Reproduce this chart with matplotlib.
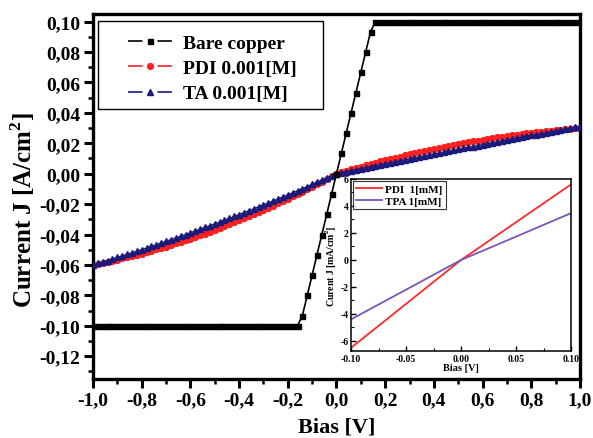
import numpy as np
import matplotlib
matplotlib.use("Agg")
import matplotlib.pyplot as plt
from matplotlib.ticker import FixedLocator, MultipleLocator, FuncFormatter
from matplotlib.lines import Line2D
from matplotlib.patches import Rectangle

plt.rcParams['font.family'] = ['Liberation Serif', 'DejaVu Serif']
plt.rcParams['font.weight'] = 'bold'
plt.rcParams['mathtext.fontset'] = 'custom'
plt.rcParams['mathtext.rm'] = 'Liberation Serif'
plt.rcParams['mathtext.bf'] = 'Liberation Serif:bold'
plt.rcParams['lines.scale_dashes'] = False

# ---------------- data ----------------
bias = np.round(np.arange(-1.0, 1.0001, 0.02), 2)

bare_copper = [-0.1] * 43 + [-0.0933, -0.08, -0.0667, -0.0533, -0.04, -0.0267, -0.0133,
               0.0,
               0.0133, 0.0267, 0.04, 0.0533, 0.0667, 0.08, 0.0933] + [0.1] * 43

pdi = [-0.06000, -0.05935, -0.05868, -0.05798, -0.05726, -0.05652, -0.05576, -0.05497,
       -0.05416, -0.05333, -0.05248, -0.05160, -0.05071, -0.04979, -0.04885, -0.04788,
       -0.04689, -0.04588, -0.04485, -0.04380, -0.04272, -0.04162, -0.04050, -0.03936,
       -0.03819, -0.03700, -0.03579, -0.03456, -0.03330, -0.03202, -0.03072, -0.02940,
       -0.02805, -0.02668, -0.02529, -0.02388, -0.02245, -0.02099, -0.01951, -0.01800,
       -0.01648, -0.01493, -0.01336, -0.01177, -0.01016, -0.00852, -0.00686, -0.00518,
       -0.00348, -0.00175, 0.0,
       0.00095, 0.00189, 0.00282, 0.00372, 0.00462, 0.00550, 0.00637, 0.00722, 0.00806,
       0.00888, 0.00969, 0.01048, 0.01126, 0.01203, 0.01278, 0.01352, 0.01424, 0.01495,
       0.01564, 0.01632, 0.01698, 0.01764, 0.01827, 0.01889, 0.01950, 0.02009, 0.02067,
       0.02124, 0.02179, 0.02232, 0.02284, 0.02335, 0.02384, 0.02432, 0.02478, 0.02523,
       0.02566, 0.02608, 0.02649, 0.02688, 0.02726, 0.02762, 0.02797, 0.02830, 0.02862,
       0.02892, 0.02922, 0.02949, 0.02975, 0.03000]

ta = [-0.06000, -0.05904, -0.05806, -0.05708, -0.05608, -0.05508, -0.05407, -0.05305,
      -0.05201, -0.05097, -0.04992, -0.04886, -0.04779, -0.04671, -0.04562, -0.04452,
      -0.04341, -0.04229, -0.04116, -0.04003, -0.03888, -0.03772, -0.03656, -0.03538,
      -0.03420, -0.03300, -0.03180, -0.03058, -0.02936, -0.02812, -0.02688, -0.02563,
      -0.02437, -0.02309, -0.02181, -0.02052, -0.01922, -0.01791, -0.01659, -0.01526,
      -0.01392, -0.01257, -0.01121, -0.00985, -0.00847, -0.00708, -0.00568, -0.00428,
      -0.00286, -0.00144, 0.0,
      0.00066, 0.00132, 0.00197, 0.00263, 0.00328, 0.00393, 0.00458, 0.00523, 0.00588,
      0.00652, 0.00716, 0.00780, 0.00844, 0.00908, 0.00972, 0.01036, 0.01099, 0.01162,
      0.01225, 0.01288, 0.01351, 0.01413, 0.01476, 0.01538, 0.01600, 0.01662, 0.01724,
      0.01785, 0.01847, 0.01908, 0.01969, 0.02030, 0.02091, 0.02152, 0.02212, 0.02272,
      0.02332, 0.02392, 0.02452, 0.02512, 0.02571, 0.02631, 0.02690, 0.02749, 0.02808,
      0.02867, 0.02925, 0.02984, 0.03042, 0.03100]

series_labels = ["Bare copper", "PDI 0.001[M]", "TA 0.001[M]"]

main_xticks = [-1.0, -0.8, -0.6, -0.4, -0.2, 0.0, 0.2, 0.4, 0.6, 0.8, 1.0]
main_yticks = [0.10, 0.08, 0.06, 0.04, 0.02, 0.00, -0.02, -0.04, -0.06, -0.08, -0.10, -0.12]

# inset data
inset_bias = [-0.10, -0.05, 0.0, 0.05, 0.10]
inset_pdi = [-6.5, -3.25, 0.0, 2.8, 5.6]
inset_tpa = [-4.4, -2.2, 0.0, 1.73, 3.47]
inset_labels = ["PDI  1[mM]", "TPA 1[mM]"]
inset_xticks = [-0.10, -0.05, 0.00, 0.05, 0.10]
inset_yticks = [-6, -4, -2, 0, 2, 4, 6]

# ---------------- figure ----------------
fig = plt.figure(figsize=(5.93, 4.39), dpi=100)
ax = fig.add_axes([0.1568, 0.1344, 0.8212, 0.8314])

styles = [dict(color='black', marker='s', ms=3.6, mec='black'),
          dict(color='#ff2020', marker='o', ms=4.2, mec='#ff2020'),
          dict(color='#1a1a7a', marker='^', ms=4.6, mec='#1a1a7a')]

ax.plot(bias, bare_copper, lw=1.2, zorder=4, **styles[0])
ax.plot(bias, pdi, lw=1.0, zorder=2, **styles[1])
ax.plot(bias, ta, lw=1.0, zorder=3, **styles[2])

ax.set_xlim(-1.0, 1.0)
ax.set_ylim(-0.135, 0.105)

def comma_fmt(dec):
    def f(v, pos):
        s = f"{v:.{dec}f}".replace('.', ',')
        if s.startswith('-') and abs(v) < 1e-9:
            s = s[1:]
        return s
    return f

ax.xaxis.set_major_locator(FixedLocator(main_xticks))
ax.yaxis.set_major_locator(FixedLocator(main_yticks))
ax.xaxis.set_minor_locator(MultipleLocator(0.1))
ax.yaxis.set_minor_locator(MultipleLocator(0.01))
ax.xaxis.set_major_formatter(FuncFormatter(comma_fmt(1)))
ax.yaxis.set_major_formatter(FuncFormatter(comma_fmt(2)))

ax.tick_params(which='major', direction='out', length=6.5, width=2.2,
               labelsize=14, pad=2.5, top=False, right=False)
ax.tick_params(which='minor', direction='out', length=3.5, width=1.8,
               top=False, right=False)
for lab in ax.get_xticklabels() + ax.get_yticklabels():
    lab.set_fontweight('bold')
for sp in ax.spines.values():
    sp.set_linewidth(2.4)

ax.set_xlabel("Bias [V]", fontsize=16, fontweight='bold', labelpad=6)
ax.set_ylabel("Current J [A/cm$^{\\mathbf{2}}$]", fontsize=18, fontweight='bold')
ax.yaxis.set_label_coords(-0.114, 0.465)

# legend: proxies with the gapped "- marker -" handle
handles = [Line2D([], [], lw=1.2, ls=(0, (10.4, 10.8)), **s) for s in styles]
ax.add_patch(Rectangle((0.0103, 0.7397), 0.462, 0.2411, transform=ax.transAxes,
                       facecolor='white', edgecolor='black', lw=1.0, zorder=5))
leg = ax.legend(handles, series_labels, loc='upper left',
                bbox_to_anchor=(0.0719, 0.945), fontsize=14, frameon=False,
                handlelength=2.3, numpoints=1, borderpad=0.0, labelspacing=0.4,
                handletextpad=0.55, borderaxespad=0.0)
leg.set_zorder(6)
for t in leg.get_texts():
    t.set_fontweight('bold')

# ---------------- inset ----------------
ins = fig.add_axes([0.592, 0.198, 0.371, 0.392])
ins.set_facecolor('white')
ins.plot(inset_bias, inset_pdi, color='#ff2a2a', lw=1.3, label=inset_labels[0])
ins.plot(inset_bias, inset_tpa, color='#7b55b5', lw=1.3, label=inset_labels[1])
ins.set_xlim(-0.10, 0.10)
ins.set_ylim(-6.75, 6.0)
ins.xaxis.set_major_locator(FixedLocator(inset_xticks))
ins.yaxis.set_major_locator(FixedLocator(inset_yticks))
ins.xaxis.set_minor_locator(MultipleLocator(0.025))
ins.yaxis.set_minor_locator(MultipleLocator(1))
ins.xaxis.set_major_formatter(FuncFormatter(lambda v, p: f"{v:.2f}".replace('-0.00', '0.00')))
ins.yaxis.set_major_formatter(FuncFormatter(lambda v, p: f"{int(round(v))}"))
ins.tick_params(which='major', direction='in', length=3.5, width=1.0, labelsize=7, pad=2,
                top=False, right=False)
ins.tick_params(which='minor', direction='in', length=2, width=0.8, top=False, right=False)
for lab in ins.get_xticklabels() + ins.get_yticklabels():
    lab.set_fontweight('bold')
for sp in ins.spines.values():
    sp.set_linewidth(1.1)
ins.set_xlabel("Bias [V]", fontsize=7.5, fontweight='bold', labelpad=0)
ins.set_ylabel("Curent J [mA/cm$^{\\mathbf{2}}$]", fontsize=7, fontweight='bold', labelpad=1)
il = ins.legend(loc='upper left', fontsize=8, frameon=True, fancybox=False,
                edgecolor='black', handlelength=2.3, borderpad=0.3, labelspacing=0.2,
                handletextpad=0.3, borderaxespad=0.15)
il.get_frame().set_linewidth(0.8)
for t in il.get_texts():
    t.set_fontweight('bold')

fig.savefig("out.png", dpi=100)
